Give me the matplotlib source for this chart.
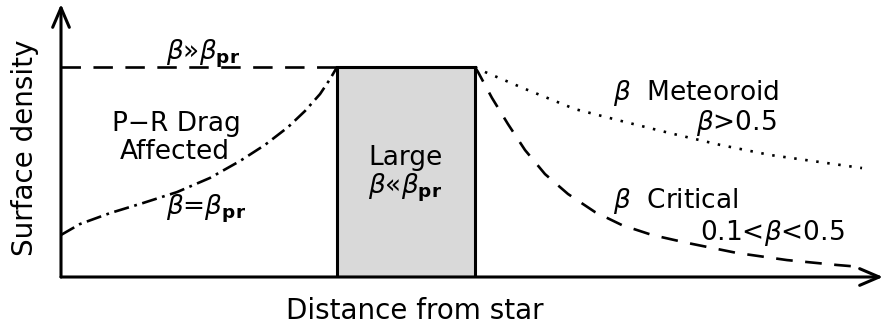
import matplotlib
matplotlib.use('Agg')
import matplotlib.pyplot as plt

# schematic: surface density vs distance from star for different grain sizes
plateau = 0.769
large_x = [3.358, 5.036]        # edges of the large-grain ring

# beta >> beta_pr (flat dashed level inside the ring)
flat_x = [0.0, 3.358]
flat_y = [plateau, plateau]

# P-R drag affected (dash-dot), rising toward the ring
pr_x = [0.0, 0.231, 0.596, 0.998, 1.411, 1.813, 2.178, 2.482, 2.762, 2.968,
        3.151, 3.273, 3.358]
pr_y = [0.154, 0.194, 0.234, 0.271, 0.311, 0.363, 0.425, 0.484, 0.549, 0.608,
        0.670, 0.725, 0.769]

# beta meteoroids (dotted), outside the ring
met_x = [5.036, 5.158, 5.645, 6.253, 6.861, 7.409, 8.017, 8.625, 9.234, 9.745]
met_y = [0.769, 0.751, 0.689, 0.615, 0.568, 0.527, 0.484, 0.447, 0.421, 0.399]

# beta critical (dashed), outside the ring
crit_x = [5.036, 5.073, 5.243, 5.438, 5.645, 5.888, 6.168, 6.496, 6.825, 7.190,
          7.616, 8.224, 8.832, 9.440, 9.720]
crit_y = [0.769, 0.751, 0.656, 0.560, 0.465, 0.377, 0.304, 0.238, 0.190, 0.154,
          0.125, 0.088, 0.062, 0.044, 0.037]

plt.rcParams['font.family'] = 'DejaVu Sans'
plt.rcParams['lines.scale_dashes'] = False

fig = plt.figure(figsize=(8.84, 3.27), dpi=100)
ax = fig.add_axes([61 / 884, 50 / 327, 822 / 884, 273 / 327])
ax.set_xlim(0, 10)
ax.set_ylim(0, 1)
ax.axis('off')

lw = 1.9
ax.bar(large_x[0], plateau, width=large_x[1] - large_x[0], align='edge',
       color='#d9d9d9', edgecolor='black', linewidth=2.2, zorder=2)
ax.plot(flat_x, flat_y, color='black', lw=lw, dashes=(14, 9), zorder=3)
ax.plot(pr_x, pr_y, color='black', lw=lw, dashes=(11, 4, 2, 4), zorder=3)
ax.plot(met_x, met_y, color='black', lw=lw, dashes=(1.8, 6.2), zorder=3)
ax.plot(crit_x, crit_y, color='black', lw=lw, dashes=(12, 9), zorder=3)

# axes drawn as arrows
arrow = dict(arrowstyle='->,head_length=0.7,head_width=0.3', lw=2.2,
             color='black', mutation_scale=20, shrinkA=0, shrinkB=0)
ax.annotate('', xy=(10, 0), xytext=(0, 0), arrowprops=arrow, annotation_clip=False)
ax.annotate('', xy=(0, 1), xytext=(0, 0), arrowprops=arrow, annotation_clip=False)

fs = 19
bpr = r'$\beta_{\mathbf{pr}}$'
ax.text(1.73, 0.817, r'$\beta$»' + bpr, fontsize=fs, ha='center', va='center')
ax.text(1.40, 0.533, 'P−R Drag', fontsize=fs, ha='center', va='baseline')
ax.text(1.39, 0.434, 'Affected', fontsize=fs, ha='center', va='baseline')
ax.text(1.77, 0.250, r'$\beta$=' + bpr, fontsize=fs, ha='center', va='center')
ax.text(4.19, 0.412, 'Large', fontsize=fs, ha='center', va='baseline')
ax.text(4.19, 0.327, r'$\beta$«' + bpr, fontsize=fs, ha='center', va='center')
ax.text(6.71, 0.647, r'$\beta$  Meteoroid', fontsize=fs, ha='left', va='baseline')
ax.text(8.70, 0.540, r'$\beta$>0.5', fontsize=fs, ha='right', va='baseline')
ax.text(6.71, 0.254, r'$\beta$  Critical', fontsize=fs, ha='left', va='baseline')
ax.text(9.53, 0.136, r'0.1<$\beta$<0.5', fontsize=fs, ha='right', va='baseline')

fig.text(25 / 884, (327 - 148) / 327, 'Surface density', fontsize=20,
         rotation=90, ha='center', va='center')
fig.text(415 / 884, 16 / 327, 'Distance from star', fontsize=20,
         ha='center', va='center')

fig.savefig('out.png', dpi=100)
